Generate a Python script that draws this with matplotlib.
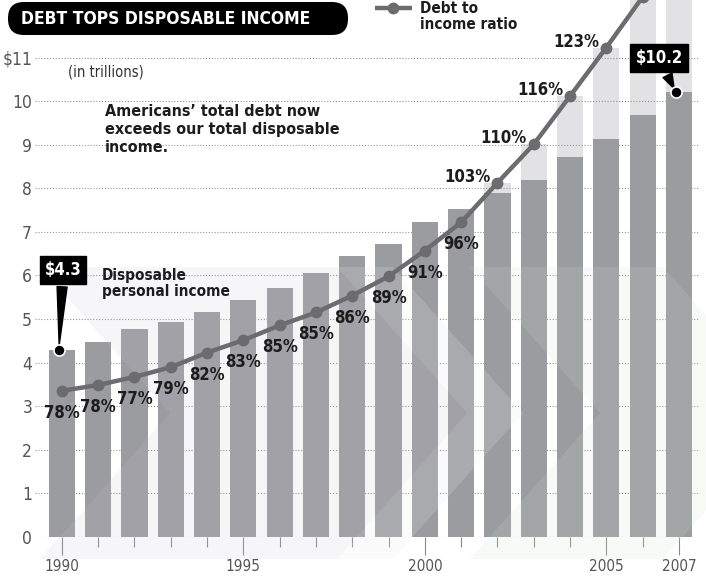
import matplotlib.pyplot as plt
from matplotlib.patches import FancyBboxPatch, Polygon

plt.rcParams['font.family'] = ['DejaVu Sans']
plt.rcParams['font.stretch'] = 'condensed'

# disposable personal income, trillions of dollars
years = list(range(1990, 2008))
income = [4.30, 4.47, 4.77, 4.93, 5.16, 5.44, 5.71, 6.06, 6.44, 6.72,
          7.22, 7.52, 7.89, 8.19, 8.72, 9.13, 9.68, 10.2]
# household debt as a share of disposable income, percent
ratio = [78, 78, 77, 79, 82, 83, 85, 85, 86, 89,
         91, 96, 103, 110, 116, 123, 128, 133]
year_labels = [1990, 1995, 2000, 2005, 2007]
y_ticks = list(range(0, 12))
y_labels = [str(v) for v in y_ticks[:-1]] + [r'\$11']

debt = [r / 100 * v for r, v in zip(ratio, income)]

W, H = 706, 582
income_color = '#9b9c9f'
debt_color = '#e2e2e4'
line_color = '#6c6c6e'
text_color = '#1c1c1c'

fig = plt.figure(figsize=(W / 100, H / 100), dpi=100)

# pixel-space layer for the header pieces
deco = fig.add_axes([0, 0, 1, 1], zorder=3)
deco.set_xlim(0, W)
deco.set_ylim(H, 0)
deco.axis('off')

ax = fig.add_axes([35 / W, 45 / H, 665 / W, 537 / H], zorder=2)
ax.patch.set_alpha(0)
ax.set_xlim(1989.26, 2007.58)
ax.set_ylim(0, 12.32)
for s in ax.spines.values():
    s.set_visible(False)

ax.bar(years, debt, width=0.72, color=debt_color, zorder=1)
for y in y_ticks:
    ax.axhline(y, color='#959595', lw=0.8, linestyle=(0, (1, 1.6)), zorder=1.5)
ax.bar(years, income, width=0.72, color=income_color, zorder=2)

# pale chevrons washed over the lower half
chevrons = [
    ([(40, 267), (337, 267), (467, 413), (337, 559), (40, 559), (170, 413)], '#c4c4d8', 0.15),
    ([(337, 267), (393, 267), (523, 413), (393, 559), (337, 559), (467, 413)], '#ebebf2', 0.18),
    ([(470, 267), (663, 267), (793, 413), (663, 559), (470, 559), (600, 413)], '#d4e4d5', 0.15),
]
for pts, col, a in chevrons:
    ax.add_patch(Polygon(pts, closed=True, facecolor=col, edgecolor='none', alpha=a,
                         transform=deco.transData, clip_on=False, zorder=2.5))

ax.plot(years, debt, color=line_color, lw=3.2, marker='o', ms=7.5, zorder=4)

for yr, d, r in zip(years, debt, ratio):
    if r < 100:
        off, ha = (0, -22), 'center'
    else:
        off, ha = (-7, 6), 'right'
    ax.annotate(f'{r}%', (yr, d), xytext=off, textcoords='offset pixels',
                ha=ha, va='center', fontsize=12, fontweight='bold',
                color=text_color, annotation_clip=False, zorder=5)

# value callouts on first and last bar
for yr, v, off in [(years[0], income[0], (4, 80)), (years[-1], income[-1], (-17, 34))]:
    ax.annotate(rf'\${v}', (yr - 0.08, v), xytext=off, textcoords='offset pixels',
                ha='center', va='center', fontsize=12, fontweight='bold', color='white',
                bbox=dict(boxstyle='square,pad=0.3', fc='black', ec='black'),
                arrowprops=dict(arrowstyle='wedge,tail_width=0.6,shrink_factor=0.5',
                                fc='black', ec='black', shrinkB=3),
                zorder=6)
    ax.plot([yr - 0.08], [v], 'o', color='black', mec='white', mew=1.2, ms=8, zorder=6)

ax.set_yticks(y_ticks)
ax.set_yticklabels(y_labels)
ax.tick_params(axis='y', length=0, pad=2, labelsize=12.5, labelcolor='#555555')
ax.set_xticks(year_labels)
ax.set_xticks(years, minor=True)
ax.tick_params(axis='x', which='major', length=13, width=0.8, color='#8a8a8a',
               labelsize=11, labelcolor='#555555', pad=3)
ax.tick_params(axis='x', which='minor', length=7, width=0.8, color='#8a8a8a')

# header, legend and notes
deco.add_patch(FancyBboxPatch((8, 2), 340, 33, boxstyle='round,pad=0,rounding_size=16',
                              fc='black', ec='none'))
deco.text(166, 19, 'DEBT TOPS DISPOSABLE INCOME', color='white', fontsize=12.5,
          fontweight='bold', ha='center', va='center')
deco.plot([375, 412], [8, 8], color=line_color, lw=3.2, solid_capstyle='butt')
deco.plot([393], [8], 'o', color=line_color, ms=7.5)
deco.text(420, 1, 'Debt to\nincome ratio', fontsize=11, fontweight='bold',
          color=text_color, va='top', ha='left', linespacing=1.05)
deco.text(68, 72, '(in trillions)', fontsize=10.5, color='#333333', va='center')
deco.text(105, 104, 'Americans’ total debt now\nexceeds our total disposable\nincome.',
          fontsize=11.5, fontweight='bold', color=text_color, va='top', linespacing=1.25)
deco.text(102, 268, 'Disposable\npersonal income', fontsize=11, fontweight='bold',
          color=text_color, va='top', linespacing=1.1)

fig.savefig('out.png', dpi=100)
